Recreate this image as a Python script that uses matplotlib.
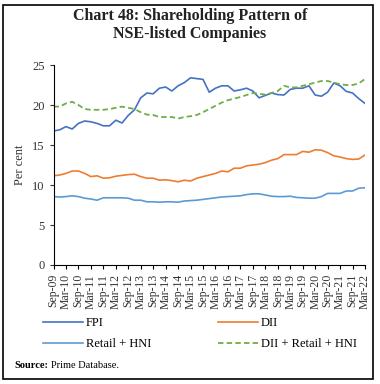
import matplotlib
matplotlib.use("Agg")
import matplotlib.pyplot as plt
import numpy as np
import pandas as pd
from matplotlib.patches import Rectangle

# quarterly data, Sep-09 to Mar-22
quarters = pd.date_range("2009-09-30", "2022-03-31", freq="QE").strftime("%b-%y").tolist()

fpi = [16.75, 16.9, 17.3, 17.0, 17.7, 18.0, 17.9, 17.7, 17.4, 17.4,
       18.1, 17.75, 18.7, 19.4, 20.9, 21.5, 21.4, 22.1, 22.25, 21.75,
       22.4, 22.8, 23.4, 23.3, 23.2, 21.6, 22.1, 22.4, 22.4, 21.75,
       21.9, 22.1, 21.75, 20.9, 21.2, 21.5, 21.3, 21.25, 21.95, 22.1,
       22.1, 22.4, 21.25, 21.1, 21.6, 22.75, 22.4, 21.7, 21.5, 20.8,
       20.2]
dii = [11.15, 11.25, 11.45, 11.75, 11.75, 11.45, 11.05, 11.15, 10.85, 10.9,
       11.1, 11.2, 11.3, 11.35, 11.05, 10.85, 10.85, 10.6, 10.65, 10.55,
       10.4, 10.6, 10.5, 10.85, 11.05, 11.25, 11.45, 11.75, 11.65, 12.1,
       12.1, 12.4, 12.5, 12.6, 12.8, 13.1, 13.3, 13.8, 13.8, 13.8,
       14.2, 14.1, 14.4, 14.35, 14.05, 13.65, 13.5, 13.3, 13.2, 13.25,
       13.75]
retail = [8.55, 8.5, 8.55, 8.65, 8.55, 8.35, 8.25, 8.1, 8.4, 8.4,
          8.4, 8.4, 8.35, 8.1, 8.1, 7.9, 7.9, 7.85, 7.9, 7.9,
          7.85, 8.0, 8.05, 8.1, 8.2, 8.3, 8.4, 8.5, 8.55, 8.6,
          8.65, 8.8, 8.9, 8.9, 8.75, 8.6, 8.55, 8.55, 8.6, 8.45,
          8.4, 8.35, 8.35, 8.55, 8.95, 8.95, 8.95, 9.25, 9.25, 9.6,
          9.65]
dii_retail = [19.8, 19.8, 20.2, 20.4, 20.0, 19.5, 19.4, 19.4, 19.4, 19.5,
              19.65, 19.8, 19.65, 19.5, 19.1, 18.8, 18.75, 18.5, 18.5, 18.5,
              18.3, 18.5, 18.6, 18.75, 19.1, 19.5, 19.9, 20.3, 20.6, 20.8,
              21.0, 21.25, 21.5, 21.4, 21.3, 21.5, 21.75, 22.4, 22.2, 22.2,
              22.4, 22.6, 22.8, 23.0, 23.0, 22.8, 22.6, 22.5, 22.5, 22.7,
              23.25]

serif = "Liberation Serif"
plt.rcParams["font.family"] = serif

fig = plt.figure(figsize=(3.8, 3.84), dpi=100)
ax = fig.add_axes([0.1408, 0.3099, 0.8197, 0.5208])

x = np.arange(len(quarters))
l_fpi, = ax.plot(x, fpi, color="#4472C4", lw=1.2, label="FPI")
l_dii, = ax.plot(x, dii, color="#ED7D31", lw=1.2, label="DII")
l_ret, = ax.plot(x, retail, color="#5B9BD5", lw=1.2, label="Retail + HNI")
l_sum, = ax.plot(x, dii_retail, color="#70AD47", lw=1.3, ls=(0, (3, 1.8)),
                 label="DII + Retail + HNI")

ax.set_xlim(0, len(quarters) - 1)
ax.set_ylim(0, 25)
ax.set_yticks(range(0, 26, 5))
ax.set_xticks(x[::2])
ax.set_xticklabels(quarters[::2], rotation=90, fontsize=8.5, color="#333333")
ax.tick_params(axis="y", labelsize=9, colors="#333333", length=3, width=0.8)
ax.tick_params(axis="x", length=3, width=0.8)
for s in ["top", "right"]:
    ax.spines[s].set_visible(False)
for s in ["left", "bottom"]:
    ax.spines[s].set_linewidth(0.8)
ax.set_ylabel("Per cent", fontsize=9, color="#333333", labelpad=4)

fig.text(0.5, 0.935, "Chart 48: Shareholding Pattern of\nNSE-listed Companies",
         ha="center", va="center", fontsize=11.5, fontweight="bold",
         color="#222222", linespacing=1.15)

# legend is filled column-wise: FPI / Retail in the first column
handles = [l_fpi, l_ret, l_dii, l_sum]
fig.legend(handles, [h.get_label() for h in handles],
           loc="upper left", bbox_to_anchor=(0.1, 0.187), ncol=2, frameon=False,
           fontsize=9, handlelength=3.2, columnspacing=5.3, labelspacing=0.7,
           handletextpad=0.25, borderaxespad=0)

fig.text(0.037, 0.047, "Source:", fontsize=7.5, fontweight="bold", va="center")
fig.text(0.134, 0.047, "Prime Database.", fontsize=7.5, va="center")

fig.patches.append(Rectangle((0.008, 0.013), 0.974, 0.974, transform=fig.transFigure,
                             fill=False, edgecolor="black", lw=1.2))

fig.savefig("out.png", dpi=100)
